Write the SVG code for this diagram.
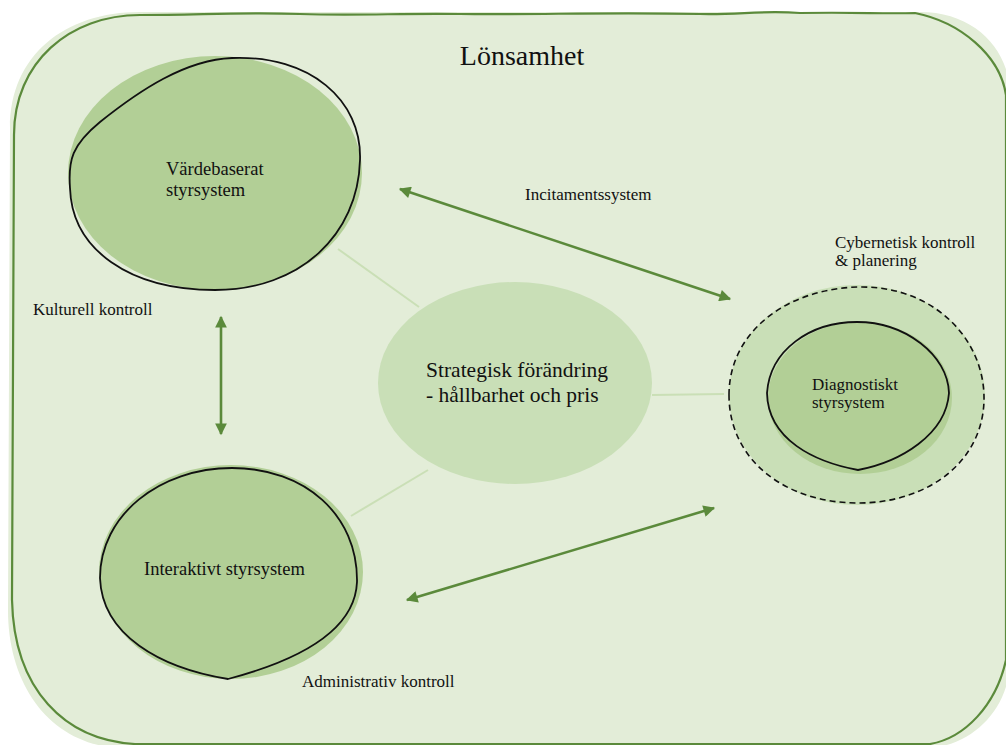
<svg xmlns="http://www.w3.org/2000/svg" width="1006" height="745" viewBox="0 0 1006 745">
<defs>
<style>
text{font-family:'Liberation Serif','DejaVu Serif',serif;fill:#111;}
.lab{font-size:17px;}
.node{font-size:18.5px;}
.arrow{stroke:#5b8a3b;stroke-width:2.6;fill:none;marker-start:url(#ah);marker-end:url(#ah);}
.link{stroke:#cadfb6;stroke-width:2;fill:none;}
.blob{fill:#b2cf96;}
.outl{fill:none;stroke:#111;stroke-width:1.8;}
</style>
<marker id="ah" viewBox="0 0 10 10" refX="9" refY="5" markerWidth="5" markerHeight="4.5" orient="auto-start-reverse" markerUnits="strokeWidth">
<path d="M0,0 L10,5 L0,10 z" fill="#5b8a3b"/>
</marker>
</defs>
<rect width="1006" height="745" fill="#ffffff"/>
<g id="frame">
<path d="M 10,128 C 10,55 65,12 140,12 L 920,12 C 975,12 1010,50 1010,95 L 1010,660 C 1010,710 970,748 925,748 L 125,748 C 55,748 8,690 8,610 Z" fill="#e3edd8"/>
<path d="M 14,135 C 14,62 70,15 140,15 C 200,15 240,12 300,14 C 360,16 400,13 460,14 C 540,15 600,12 700,14 C 740,15 760,10 800,13 C 860,12 880,14 915,13 C 960,22 1000,55 1006,95 L 1006,660 C 996,705 965,738 930,744 L 135,744 C 65,740 14,690 12,600 C 12,450 14,300 14,135 Z" fill="none" stroke="#5b8a3b" stroke-width="2.2"/>
<text x="522" y="65" font-family="Liberation Serif, serif" font-size="28" text-anchor="middle">Lönsamhet</text>
</g>
<g id="connectors">
<line class="link" x1="338" y1="249" x2="419" y2="307"/>
<line class="link" x1="351" y1="516" x2="428" y2="470"/>
<line class="link" x1="652" y1="395" x2="724" y2="394"/>
<line class="arrow" x1="400" y1="189" x2="730" y2="299"/>
<line class="arrow" x1="221" y1="317" x2="221" y2="434"/>
<line class="arrow" x1="407" y1="600" x2="714" y2="508"/>
</g>
<g id="labels">
<text class="lab" x="525" y="200">Incitamentssystem</text>
<text class="lab" x="33" y="315">Kulturell kontroll</text>
<text class="lab" x="302" y="687">Administrativ kontroll</text>
<text class="lab" x="835" y="248">Cybernetisk kontroll</text>
<text class="lab" x="835" y="266">&amp; planering</text>
</g>
<g id="vardebaserat">
<ellipse class="blob" cx="215" cy="173" rx="147" ry="117"/>
<path class="outl" d="M 70,188 C 68,160 72,145 100,122 C 140,90 185,60 232,58 C 310,55 362,100 360,160 C 358,235 300,290 215,290 C 130,290 72,250 70,188 Z"/>
<text class="node" x="166" y="175">Värdebaserat</text>
<text class="node" x="166" y="196">styrsystem</text>
</g>
<g id="interaktivt">
<ellipse class="blob" cx="231" cy="572" rx="132" ry="107"/>
<path class="outl" d="M 100,578 C 100,515 160,468 232,468 C 305,468 358,515 357,582 C 355,630 300,660 228,679 C 160,668 102,635 100,578 Z"/>
<text class="node" x="144" y="575">Interaktivt styrsystem</text>
</g>
<g id="strategisk">
<ellipse cx="515" cy="383" rx="137" ry="101" fill="#c9dfb7"/>
<text x="426" y="377" style="font-size:21.5px">Strategisk förändring</text>
<text x="426" y="402" style="font-size:21.5px">- hållbarhet och pris</text>
</g>
<g id="diagnostiskt">
<ellipse cx="857" cy="395" rx="128" ry="110" fill="#c9dfb7"/>
<path d="M 729,395 C 729,330 790,287 862,287 C 935,287 985,340 984,400 C 983,460 930,503 858,503 C 785,503 729,460 729,395 Z" fill="none" stroke="#111" stroke-width="1.6" stroke-dasharray="6,4"/>
<ellipse class="blob" cx="860" cy="398" rx="92" ry="76"/>
<path class="outl" d="M 767,393 C 770,350 810,322 857,322 C 905,322 948,355 949,393 C 946,435 900,462 858,470 C 815,462 768,440 767,393 Z"/>
<text class="lab" x="812" y="390">Diagnostiskt</text>
<text class="lab" x="812" y="408">styrsystem</text>
</g>
</svg>
